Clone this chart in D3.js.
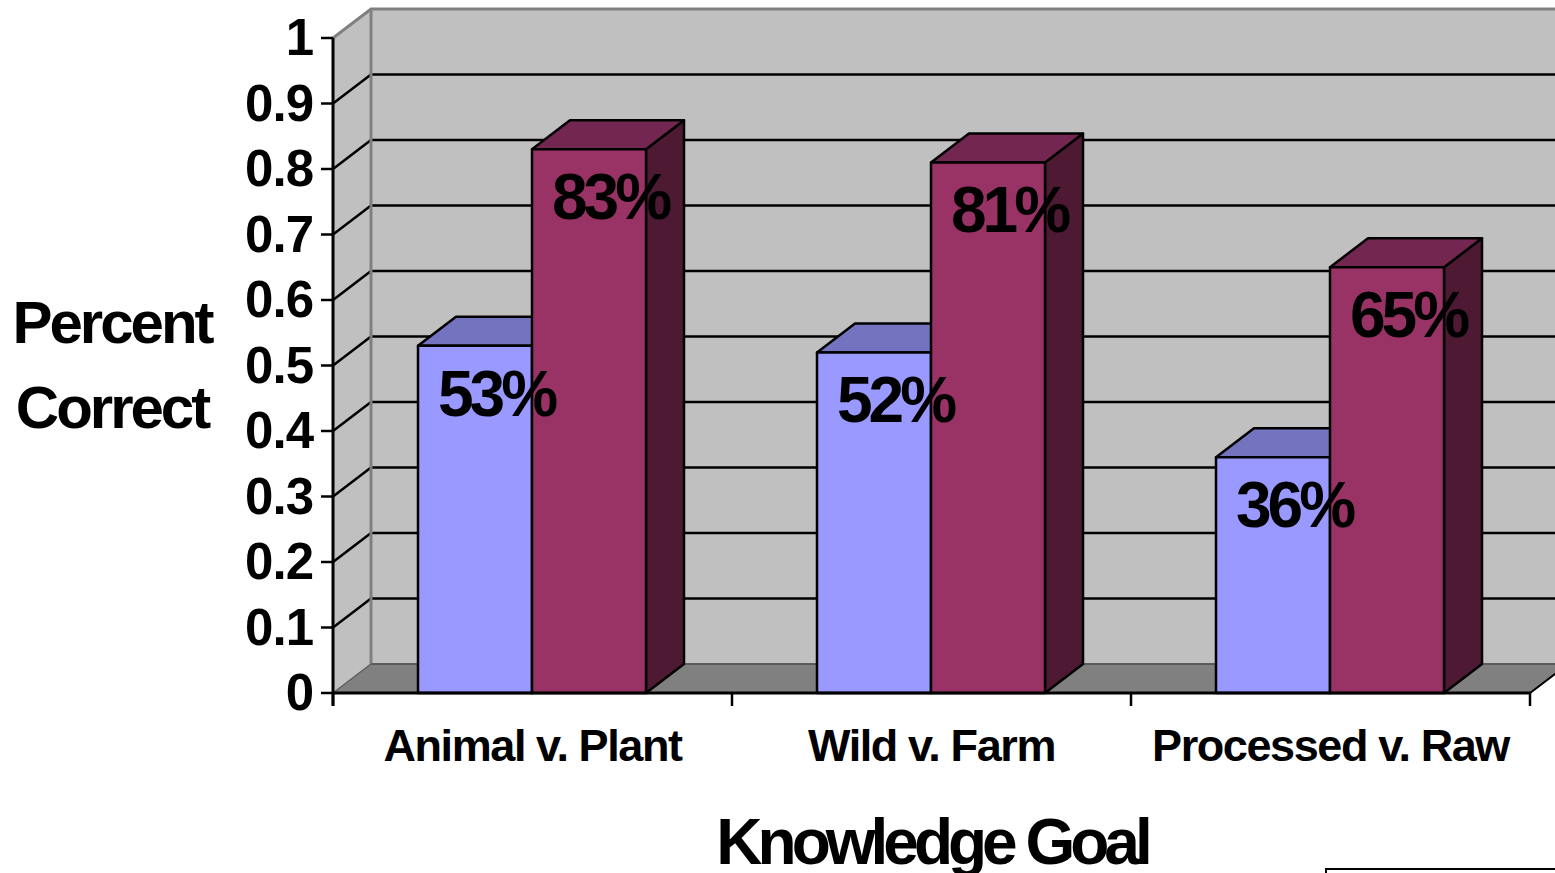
<!DOCTYPE html>
<html>
<head>
<meta charset="utf-8">
<script src="https://cdn.jsdelivr.net/npm/d3@7"></script>
<style>
  body { margin: 0; background: #fff; }
  text { font-family: "Liberation Sans", Arial, sans-serif; font-weight: bold; fill: #000; }
</style>
</head>
<body>
<svg id="plot1" width="1555" height="873"></svg>
<script>
// chart data
var categories = ["Animal v. Plant", "Wild v. Farm", "Processed v. Raw"];
var seriesNames = ["s1", "s2"];
var series1 = [0.53, 0.52, 0.36];
var series2 = [0.83, 0.81, 0.65];
var yTicks = [0, 0.1, 0.2, 0.3, 0.4, 0.5, 0.6, 0.7, 0.8, 0.9, 1];
var yTickLabels = ["0", "0.1", "0.2", "0.3", "0.4", "0.5", "0.6", "0.7", "0.8", "0.9", "1"];

var svg = d3.select("#plot1");

// front plane of the plot and the 3d depth offset
var pLeft = 333, pRight = 1530, pBottom = 693, pTop = 38;
var dx = 38, dy = -29;

var x = d3.scaleBand().domain(categories).range([pLeft, pRight]);
var xs = d3.scaleBand().domain(seriesNames).range([85, 313]); // pair of bars inside each band
var y = d3.scaleLinear().domain([0, 1]).range([pBottom, pTop]);

var faces = {
  s1: {front: "#9999FF", top: "#7373BF", side: "#5C5C99"},
  s2: {front: "#993366", top: "#732650", side: "#4D1933"}
};

function pts(a) { return a.map(function(p){ return p.join(","); }).join(" "); }

var wallRight = pRight + dx + 20;

// back wall
svg.append("polygon")
    .attr("points", pts([[pLeft+dx, y(1)+dy], [wallRight, y(1)+dy], [wallRight, pBottom+dy], [pLeft+dx, pBottom+dy]]))
    .attr("fill", "#C0C0C0");

// side wall
svg.append("polygon")
    .attr("points", pts([[pLeft, y(1)], [pLeft+dx, y(1)+dy], [pLeft+dx, pBottom+dy], [pLeft, pBottom]]))
    .attr("fill", "#C0C0C0");

// floor
svg.append("polygon")
    .attr("points", pts([[pLeft, pBottom], [pLeft+dx, pBottom+dy], [pRight+dx, pBottom+dy], [pRight, pBottom]]))
    .attr("fill", "#808080")
    .attr("stroke", "#606060")
    .attr("stroke-width", 1.5);

// gridlines on back and side walls
var inner = yTicks.filter(function(t){ return t > 0 && t < 1; });
svg.selectAll(".gridBack")
    .data(inner)
    .enter()
    .append("line")
    .attr("x1", pLeft+dx).attr("x2", wallRight)
    .attr("y1", function(d){ return y(d)+dy; })
    .attr("y2", function(d){ return y(d)+dy; })
    .attr("stroke", "#000").attr("stroke-width", 2.5);

svg.selectAll(".gridSide")
    .data(inner)
    .enter()
    .append("line")
    .attr("x1", pLeft).attr("x2", pLeft+dx)
    .attr("y1", function(d){ return y(d); })
    .attr("y2", function(d){ return y(d)+dy; })
    .attr("stroke", "#000").attr("stroke-width", 2.5);

// wall edges
svg.append("path")
    .attr("d", "M" + pLeft + "," + y(1) + "L" + (pLeft+dx) + "," + (y(1)+dy) + "L" + wallRight + "," + (y(1)+dy))
    .attr("fill", "none").attr("stroke", "#808080").attr("stroke-width", 3);
svg.append("line")
    .attr("x1", pLeft+dx).attr("x2", pLeft+dx)
    .attr("y1", y(1)+dy).attr("y2", pBottom+dy)
    .attr("stroke", "#808080").attr("stroke-width", 3);
svg.append("line")
    .attr("x1", pLeft+dx).attr("x2", wallRight)
    .attr("y1", pBottom+dy).attr("y2", pBottom+dy)
    .attr("stroke", "#555").attr("stroke-width", 1.5);

// bars
var bars = [];
categories.forEach(function(c, i){
  bars.push({cat: c, s: "s1", v: series1[i]});
  bars.push({cat: c, s: "s2", v: series2[i]});
});

var barG = svg.selectAll(".bar")
    .data(bars)
    .enter()
    .append("g")
    .attr("class", "bar");

barG.each(function(d){
  var g = d3.select(this);
  var x0 = x(d.cat) + xs(d.s), x1 = x0 + xs.bandwidth();
  var yv = y(d.v), y0 = y(0);
  g.append("polygon")
      .attr("points", pts([[x1, yv], [x1+dx, yv+dy], [x1+dx, y0+dy], [x1, y0]]))
      .attr("fill", faces[d.s].side);
  g.append("polygon")
      .attr("points", pts([[x0, yv], [x0+dx, yv+dy], [x1+dx, yv+dy], [x1, yv]]))
      .attr("fill", faces[d.s].top);
  g.append("rect")
      .attr("x", x0).attr("y", yv)
      .attr("width", x1 - x0).attr("height", y0 - yv)
      .attr("fill", faces[d.s].front);
  g.selectAll("polygon, rect")
      .attr("stroke", "#000").attr("stroke-width", 2.5).attr("stroke-linejoin", "round");
});

// value labels
svg.selectAll(".valLabel")
    .data(bars)
    .enter()
    .append("text")
    .attr("class", "valLabel")
    .attr("x", function(d){ return x(d.cat) + xs(d.s) + xs.bandwidth()/2 + dx/2 + 2; })
    .attr("y", function(d){ return y(d.v) + 70; })
    .attr("text-anchor", "middle")
    .style("font-size", "64px")
    .style("letter-spacing", "-4px")
    .text(function(d){ return Math.round(d.v*100) + "%"; });

// value axis
svg.append("line")
    .attr("x1", pLeft).attr("x2", pLeft)
    .attr("y1", y(1)).attr("y2", pBottom + 13)
    .attr("stroke", "#000").attr("stroke-width", 3);
svg.selectAll(".yTick")
    .data(yTicks)
    .enter()
    .append("line")
    .attr("x1", pLeft - 12).attr("x2", pLeft)
    .attr("y1", function(d){ return y(d); })
    .attr("y2", function(d){ return y(d); })
    .attr("stroke", "#000").attr("stroke-width", 2.5);
svg.selectAll(".yLabel")
    .data(yTicks)
    .enter()
    .append("text")
    .attr("x", pLeft - 20)
    .attr("y", function(d){ return y(d) + 17; })
    .attr("text-anchor", "end")
    .style("font-size", "51px")
    .style("letter-spacing", "-1px")
    .text(function(d, i){ return yTickLabels[i]; });

// category axis
svg.append("line")
    .attr("x1", pLeft).attr("x2", pRight)
    .attr("y1", pBottom).attr("y2", pBottom)
    .attr("stroke", "#000").attr("stroke-width", 3);
svg.append("line")
    .attr("x1", pRight).attr("x2", pRight + dx)
    .attr("y1", pBottom).attr("y2", pBottom + dy)
    .attr("stroke", "#000").attr("stroke-width", 2);
var catEdges = categories.map(function(c){ return x(c); }).concat([pRight]);
svg.selectAll(".xTick")
    .data(catEdges)
    .enter()
    .append("line")
    .attr("x1", function(d){ return d; })
    .attr("x2", function(d){ return d; })
    .attr("y1", pBottom).attr("y2", pBottom + 13)
    .attr("stroke", "#000").attr("stroke-width", 2.5);
svg.selectAll(".xLabel")
    .data(categories)
    .enter()
    .append("text")
    .attr("x", function(d){ return x(d) + x.bandwidth()/2; })
    .attr("y", 761)
    .attr("text-anchor", "middle")
    .style("font-size", "45px")
    .style("letter-spacing", "-1.4px")
    .text(function(d){ return d; });

// axis titles
var yTitle = svg.append("text")
    .attr("text-anchor", "middle")
    .style("font-size", "60px")
    .style("letter-spacing", "-3px");
yTitle.append("tspan").attr("x", 112).attr("y", 343).text("Percent");
yTitle.append("tspan").attr("x", 112).attr("y", 428).text("Correct");

svg.append("text")
    .attr("x", 932).attr("y", 864)
    .attr("text-anchor", "middle")
    .style("font-size", "64px")
    .style("letter-spacing", "-5px")
    .text("Knowledge Goal");

// legend box, mostly outside the picture
svg.append("rect")
    .attr("x", 1326).attr("y", 869)
    .attr("width", 260).attr("height", 120)
    .attr("fill", "#fff").attr("stroke", "#000").attr("stroke-width", 2);
</script>
</body>
</html>
